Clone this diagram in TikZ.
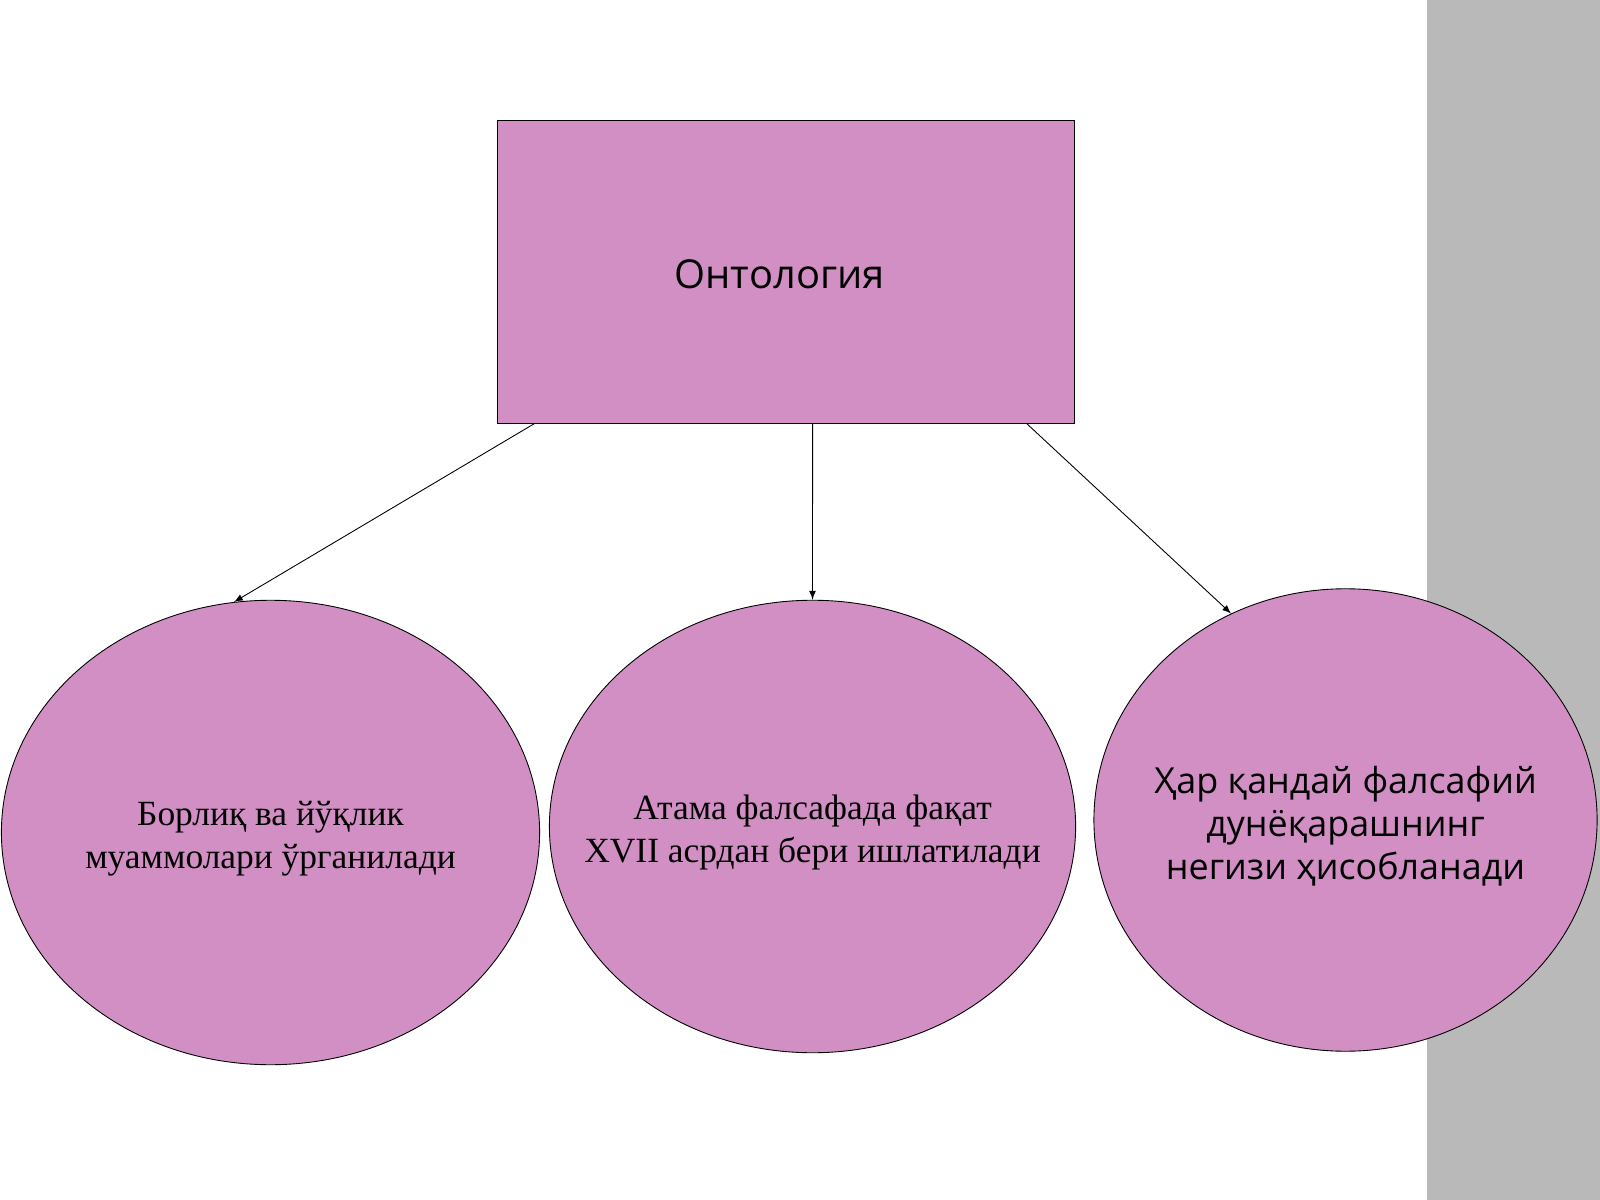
\documentclass[tikz,border=0pt]{standalone}
\usepackage{fontspec}
\setmainfont{Liberation Serif}
\newfontfamily\slidesans{Open Sans}
\usetikzlibrary{shapes.geometric,calc}

\definecolor{orchid}{RGB}{210,143,196}
\definecolor{sidegray}{RGB}{185,185,185}

\tikzset{
    topic/.style={draw=black, fill=orchid, rectangle, inner sep=0pt},
    idea/.style={draw=black, fill=orchid, ellipse, inner sep=0pt},
    words/.style={align=center, text=black, yshift=-2.7pt},
    link/.style={-latex, thin}
}

\begin{document}
\begin{tikzpicture}[x=0.015875cm, y=-0.015875cm]

    % Frame and side band
    \useasboundingbox (0,0) rectangle (1600,1200);
    \fill[white] (0,0) rectangle (1600,1200);
    \fill[sidegray] (1427,0) rectangle (1600,1200);

    % Main term
    \node[topic, minimum width=260.5pt, minimum height=136.4pt,
          label={[words, xshift=-2.7pt, yshift=1.8pt,
                  font=\slidesans\fontsize{18}{22}\selectfont]center:Онтология}] (onto) at (785.5,272) {};

    % Three branches
    \node[idea, minimum width=243pt, minimum height=209.7pt,
          label={[words, font=\fontsize{16}{19.3}\selectfont]center:Борлиқ ва йўқлик\\муаммолари ўрганилади}] (being) at (270.5,832.5) {};
    \node[idea, minimum width=237.6pt, minimum height=204.3pt,
          label={[words, font=\fontsize{16}{19.3}\selectfont]center:Атама фалсафада фақат\\XVII асрдан бери ишлатилади}] (term) at (812.5,826.5) {};
    \node[idea, minimum width=227.2pt, minimum height=208.8pt,
          label={[words, font=\slidesans\fontsize{16.2}{19.3}\selectfont]center:Ҳар қандай фалсафий\\дунёқарашнинг\\негизи ҳисобланади}] (basis) at (1345.5,820) {};

    % Arrows
    \draw[link] ($(onto.south west)+(38,0)$) -- (being.99);
    \draw[link] ($(onto.south west)+(316,0)$) -- (term.north);
    \draw[link] ($(onto.south west)+(530,0)$) -- (basis.119);

\end{tikzpicture}
\end{document}
